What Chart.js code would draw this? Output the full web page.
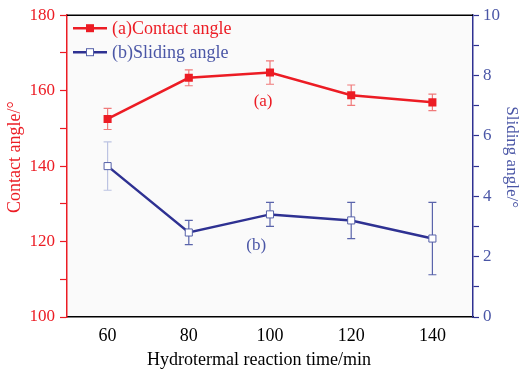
<!DOCTYPE html>
<html><head><meta charset="utf-8">
<script src="https://cdn.jsdelivr.net/npm/chart.js@4"></script>
<style>html,body{margin:0;padding:0;background:#fff}#wrap{width:522px;height:370px;position:relative}</style>
</head><body><div id="wrap"><canvas id="c" width="522" height="370"></canvas></div>
<script>
const times = [60, 80, 100, 120, 140];
const contactAngle = [152.5, 163.4, 164.8, 158.8, 156.9];
const contactErr = [2.8, 2.1, 3.1, 2.7, 2.2];
const slidingAngle = [5.0, 2.8, 3.4, 3.2, 2.6];
const slidingErr = [0.8, 0.4, 0.4, 0.6, 1.2];
const xTicks = [60, 80, 100, 120, 140];
const leftLabels = [100, 120, 140, 160, 180];
const rightLabels = [0, 2, 4, 6, 8, 10];
const seriesNames = ['(a)Contact angle', '(b)Sliding angle'];
const axisTitles = {x: 'Hydrotermal reaction time/min', y: 'Contact angle/°', y2: 'Sliding angle/°'};
const annotations = [{text: '(a)', x: 98.3, y: 157.2, axis: 'y'}, {text: '(b)', x: 96.6, y: 2.38, axis: 'y2'}];

const RED = '#ec1c24', BLUE = '#2e3192', BLUE_TXT = '#4a56a6';
const FONT = '"Liberation Serif", "DejaVu Serif", serif';

const plotBg = {
  id: 'plotBg',
  beforeDraw(chart) {
    const {ctx, chartArea: a} = chart;
    ctx.save(); ctx.fillStyle = '#fafafa';
    ctx.fillRect(a.left, a.top, a.right - a.left, a.bottom - a.top);
    ctx.restore();
  },
  afterDraw(chart) {
    const {ctx, chartArea: a} = chart;
    ctx.save(); ctx.strokeStyle = '#000'; ctx.lineWidth = 1.5;
    ctx.beginPath(); ctx.moveTo(a.left, a.top); ctx.lineTo(a.right, a.top); ctx.stroke();
    ctx.restore();
  }
};

const errorBars = {
  id: 'errorBars',
  beforeDatasetsDraw(chart) {
    const ctx = chart.ctx, xs = chart.scales.x;
    chart.data.datasets.forEach(ds => {
      const ys = chart.scales[ds.yAxisID];
      ds.errors.forEach((e, j) => {
        const p = ds.data[j];
        const px = xs.getPixelForValue(p.x);
        const t = ys.getPixelForValue(p.y + e), b = ys.getPixelForValue(p.y - e);
        ctx.save();
        ctx.strokeStyle = ds.errColors[j]; ctx.lineWidth = 1.2;
        ctx.beginPath();
        ctx.moveTo(px, t); ctx.lineTo(px, b);
        ctx.moveTo(px - 4, t); ctx.lineTo(px + 4, t);
        ctx.moveTo(px - 4, b); ctx.lineTo(px + 4, b);
        ctx.stroke(); ctx.restore();
      });
    });
  }
};

const legendAndNotes = {
  id: 'legendAndNotes',
  afterDraw(chart) {
    const ctx = chart.ctx, a = chart.chartArea;
    ctx.save();
    ctx.font = '18px ' + FONT; ctx.textBaseline = 'middle'; ctx.textAlign = 'left';
    chart.data.datasets.forEach((ds, i) => {
      const y = a.top + 13 + i * 24, x0 = a.left + 6, x1 = a.left + 40, xm = (x0 + x1) / 2;
      ctx.strokeStyle = ds.borderColor; ctx.lineWidth = 2.5;
      ctx.beginPath(); ctx.moveTo(x0, y); ctx.lineTo(x1, y); ctx.stroke();
      if (i === 0) { ctx.fillStyle = ds.borderColor; ctx.fillRect(xm - 4, y - 4, 8, 8); }
      else { ctx.fillStyle = '#fff'; ctx.fillRect(xm - 3.5, y - 3.5, 7, 7); ctx.strokeStyle = '#5560a8'; ctx.lineWidth = 1; ctx.strokeRect(xm - 3.5, y - 3.5, 7, 7); }
      ctx.fillStyle = i === 0 ? RED : BLUE_TXT;
      ctx.fillText(ds.label, x1 + 5, y + 1);
    });
    ctx.font = '17px ' + FONT;
    ctx.textAlign = 'center';
    annotations.forEach((n, i) => {
      ctx.fillStyle = i === 0 ? RED : BLUE_TXT;
      ctx.fillText(n.text, chart.scales.x.getPixelForValue(n.x), chart.scales[n.axis].getPixelForValue(n.y));
    });
    // axis titles
    ctx.font = '18px ' + FONT;
    const midY = (a.top + a.bottom) / 2 - 9;
    ctx.fillStyle = '#000';
    ctx.fillText(axisTitles.x, (a.left + a.right) / 2 - 11, 360);
    ctx.save(); ctx.translate(15, midY); ctx.rotate(-Math.PI / 2);
    ctx.fillStyle = RED; ctx.fillText(axisTitles.y, 0, 0); ctx.restore();
    ctx.font = '17px ' + FONT;
    ctx.save(); ctx.translate(511, midY); ctx.rotate(Math.PI / 2);
    ctx.fillStyle = BLUE_TXT; ctx.fillText(axisTitles.y2, 0, 0); ctx.restore();
    ctx.restore();
  }
};

new Chart(document.getElementById('c'), {
  type: 'line',
  data: {
    datasets: [
      {
        label: seriesNames[0], yAxisID: 'y',
        data: times.map((t, i) => ({x: t, y: contactAngle[i]})),
        errors: contactErr, errColors: contactErr.map(() => '#f07a7a'),
        borderColor: RED, backgroundColor: RED, borderWidth: 2.5,
        pointStyle: 'rect', pointRadius: 5.7, pointBorderWidth: 0, pointBackgroundColor: RED
      },
      {
        label: seriesNames[1], yAxisID: 'y2',
        data: times.map((t, i) => ({x: t, y: slidingAngle[i]})),
        errors: slidingErr, errColors: slidingErr.map((e, i) => i === 0 ? '#bcc3e2' : '#5a64ab'),
        borderColor: BLUE, backgroundColor: '#fff', borderWidth: 2.5,
        pointStyle: 'rect', pointRadius: 5, pointBorderWidth: 1, pointBorderColor: '#5560a8', pointBackgroundColor: '#fff'
      }
    ]
  },
  options: {
    responsive: false, animation: false, devicePixelRatio: 1,
    layout: {padding: {top: 15, left: 0, right: 0, bottom: 0}},
    plugins: {legend: {display: false}, tooltip: {enabled: false}},
    scales: {
      x: {
        type: 'linear', min: 50, max: 150, position: 'bottom',
        afterBuildTicks: s => { s.ticks = xTicks.map(v => ({value: v})); },
        afterFit: s => { s.height = 53; },
        grid: {drawOnChartArea: false, drawTicks: false},
        border: {color: '#000', width: 1.5},
        ticks: {color: '#000', font: {family: FONT, size: 18}, padding: 8, maxRotation: 0}
      },
      y: {
        type: 'linear', min: 100, max: 180, position: 'left',
        afterBuildTicks: s => { const t = []; for (let v = 100; v <= 180; v += 10) t.push({value: v}); s.ticks = t; },
        afterFit: s => { s.width = 67; },
        grid: {drawOnChartArea: false, drawTicks: true, tickLength: 7, color: RED, tickWidth: 1.2},
        border: {color: RED, width: 1.5},
        ticks: {color: RED, font: {family: FONT, size: 17}, padding: 5,
          callback: v => leftLabels.includes(v) ? String(v) : ''}
      },
      y2: {
        type: 'linear', min: 0, max: 10, position: 'right',
        afterBuildTicks: s => { const t = []; for (let v = 0; v <= 10; v += 1) t.push({value: v}); s.ticks = t; },
        afterFit: s => { s.width = 49; },
        grid: {drawOnChartArea: false, drawTicks: true, tickLength: 6, color: BLUE, tickWidth: 1.2},
        border: {color: BLUE, width: 1.5},
        ticks: {color: BLUE_TXT, font: {family: FONT, size: 17}, padding: 4,
          callback: v => rightLabels.includes(v) ? String(v) : ''}
      }
    }
  },
  plugins: [plotBg, errorBars, legendAndNotes]
});
</script></body></html>
